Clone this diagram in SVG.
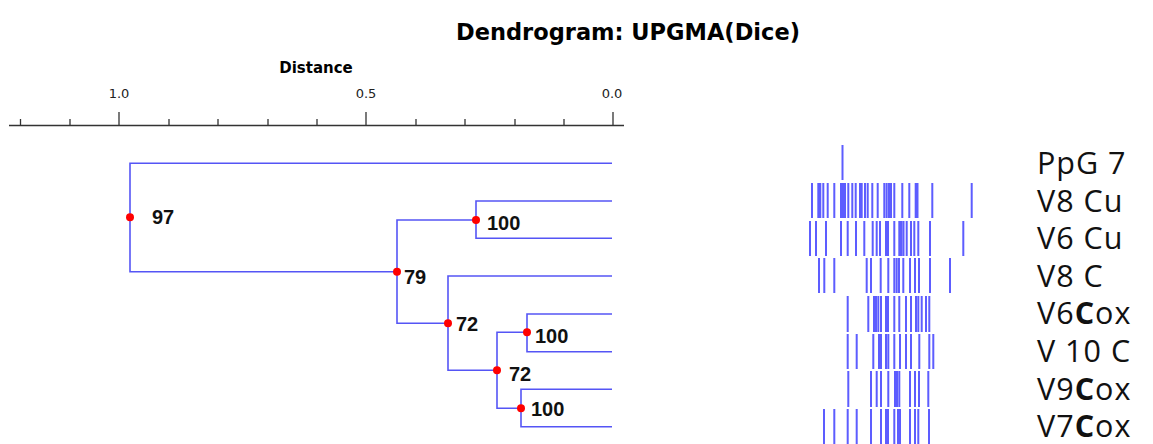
<svg xmlns="http://www.w3.org/2000/svg" width="1153" height="444" viewBox="0 0 1153 444">
<style>
.t{font-family:"DejaVu Sans",Verdana,sans-serif;font-weight:bold;fill:#000}
.ax{font-family:"DejaVu Sans",Verdana,sans-serif;font-size:13px;fill:#222;text-anchor:middle}
.axl{stroke:#333;stroke-width:1.3;fill:none}
.br{stroke:#5555f5;stroke-width:1.6;fill:none}
.dot{fill:#ff0000}
.bl{font-family:"Liberation Sans",Arial,sans-serif;font-weight:bold;font-size:20px;fill:#111}
.b{stroke:#3535ff;stroke-width:2;stroke-opacity:0.8}
.lab{font-family:"Open Sans","Noto Sans",sans-serif;font-size:30.5px;letter-spacing:1px;fill:#111}
.bc{font-weight:bold}
</style>
<rect width="1153" height="444" fill="#fff"/>
<text class="t" x="628" y="40" font-size="22.5" text-anchor="middle">Dendrogram: UPGMA(Dice)</text>
<g id="axis">
<text class="t" x="316" y="73" font-size="15" text-anchor="middle">Distance</text>
<text class="ax" x="119" y="98">1.0</text>
<text class="ax" x="366" y="98">0.5</text>
<text class="ax" x="612" y="98">0.0</text>
<path class="axl" d="M9 125.5H624 M119 112V125 M366 112V125 M613 112V125 M20.5 119V125 M70 119V125 M169 119V125 M218 119V125 M268 119V125 M317 119V125 M416 119V125 M465 119V125 M515 119V125 M564 119V125"/>
</g>
<g id="connectors">
<path class="br" d="M612 163.3H130V271.7H397"/>
<path class="br" d="M612 201H476V238.3H612"/>
<path class="br" d="M476 220H397V323.3H448"/>
<path class="br" d="M612 276H448V370.3H497"/>
<path class="br" d="M612 314H527V351.7H612"/>
<path class="br" d="M527 332.3H497V408.3H521"/>
<path class="br" d="M612 389.3H521V426.7H612"/>
</g>
<g id="node-97"><circle class="dot" cx="130" cy="217.3" r="4"/><text class="bl" x="152" y="224">97</text></g>
<g id="node-100a"><circle class="dot" cx="476" cy="220" r="4"/><text class="bl" x="487" y="230">100</text></g>
<g id="node-79"><circle class="dot" cx="397" cy="271.7" r="4"/><text class="bl" x="404" y="284">79</text></g>
<g id="node-72a"><circle class="dot" cx="448" cy="323.3" r="4"/><text class="bl" x="456" y="331">72</text></g>
<g id="node-100b"><circle class="dot" cx="527" cy="332.3" r="4"/><text class="bl" x="535" y="343">100</text></g>
<g id="node-72b"><circle class="dot" cx="497" cy="370.3" r="4"/><text class="bl" x="509" y="381">72</text></g>
<g id="node-100c"><circle class="dot" cx="521" cy="408.3" r="4"/><text class="bl" x="531" y="416">100</text></g>
<g id="lane-PpG7"><path class="b" d="M842.5 145V180"/></g>
<g id="lane-V8Cu"><path class="b" d="M812 183V218M818.3 183V218M820.3 183V218M823.3 183V218M827.7 183V218M834.3 183V218M841 183V218M843 183V218M845 183V218M848.3 183V218M852.3 183V218M855.7 183V218M860 183V218M861.7 183V218M865 183V218M867.7 183V218M872.3 183V218M877.7 183V218M884.3 183V218M886.7 183V218M889 183V218M891 183V218M894.3 183V218M902.3 183V218M909.3 183V218M915.7 183V218M917.5 183V218M932.3 183V218M971.7 183V218"/></g>
<g id="lane-V6Cu"><path class="b" d="M810 221V256M816 221V256M826 221V256M841 221V256M847.7 221V256M856 221V256M864.3 221V256M872.7 221V256M876.7 221V256M880 221V256M886 221V256M888 221V256M894.3 221V256M899.3 221V256M901.3 221V256M903.5 221V256M906.7 221V256M911 221V256M914.3 221V256M918.3 221V256M930 221V256M963.3 221V256"/></g>
<g id="lane-V8C"><path class="b" d="M819 258V293M824.3 258V293M834.3 258V293M866.7 258V293M871 258V293M880.7 258V293M888.3 258V293M894.3 258V293M896.7 258V293M899 258V293M903.3 258V293M910 258V293M915 258V293M919 258V293M930 258V293M950 258V293"/></g>
<g id="lane-V6Cox"><path class="b" d="M847.7 296V332M868.3 296V332M874 296V332M876 296V332M878.3 296V332M881 296V332M886 296V332M888 296V332M894.3 296V332M899.3 296V332M906 296V332M911 296V332M916 296V332M918.3 296V332M921.7 296V332M926 296V332M929.3 296V332"/></g>
<g id="lane-V10C"><path class="b" d="M847.7 334V369M856.7 334V369M873.3 334V369M879 334V369M881 334V369M886 334V369M888.3 334V369M894.3 334V369M900 334V369M906 334V369M911 334V369M919.3 334V369M929.3 334V369M933.3 334V369"/></g>
<g id="lane-V9Cox"><path class="b" d="M848.3 371V407M871 371V407M876.7 371V407M881 371V407M888.3 371V407M895 371V407M897 371V407M899.3 371V407M910 371V407M915 371V407M919 371V407M928.3 371V407"/></g>
<g id="lane-V7Cox"><path class="b" d="M824 409V444M834.3 409V444M847.7 409V444M856.7 409V444M871 409V444M881 409V444M886 409V444M888 409V444M894.3 409V444M898 409V444M900 409V444M910 409V444M915 409V444M918.3 409V444M929 409V444"/></g>
<g id="labels">
<text class="lab" x="1037" y="174">PpG 7</text>
<text class="lab" x="1037" y="211.5">V8 Cu</text>
<text class="lab" x="1037" y="249">V6 Cu</text>
<text class="lab" x="1037" y="286.7">V8 C</text>
<text class="lab" x="1037" y="324.3">V6<tspan class="bc">C</tspan>ox</text>
<text class="lab" x="1037" y="362">V 10 C</text>
<text class="lab" x="1037" y="399.6">V9<tspan class="bc">C</tspan>ox</text>
<text class="lab" x="1037" y="436.5">V7<tspan class="bc">C</tspan>ox</text>
</g>
</svg>
